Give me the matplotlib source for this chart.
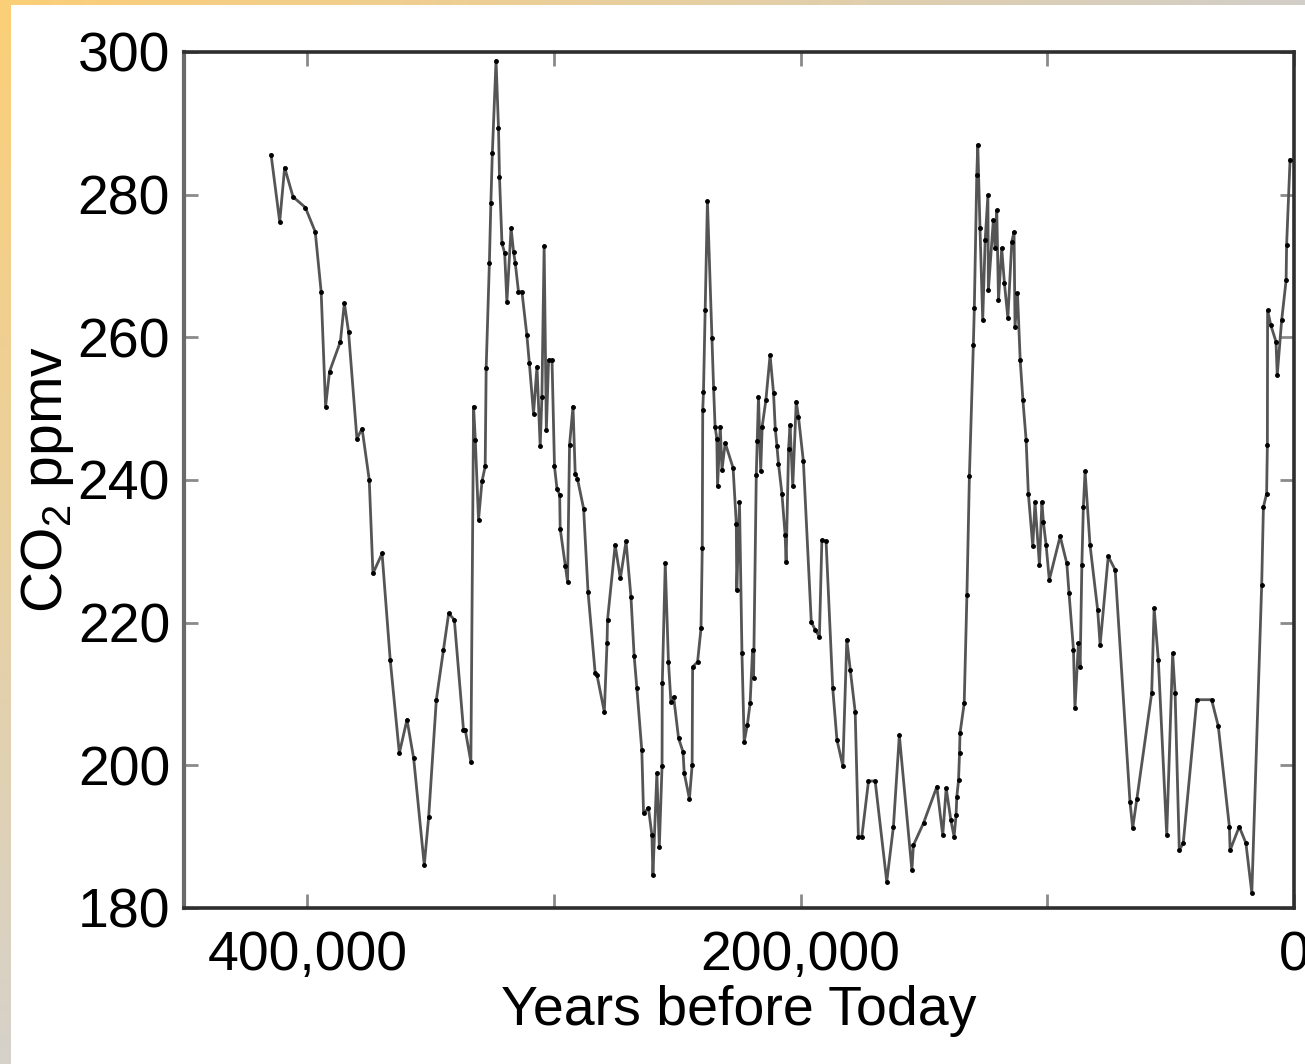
import numpy as np
import matplotlib
matplotlib.use("Agg")
import matplotlib.pyplot as plt
from matplotlib.colors import to_rgb

plt.rcParams['font.family'] = ['Liberation Sans', 'DejaVu Sans']
plt.rcParams['mathtext.fontset'] = 'custom'
plt.rcParams['mathtext.rm'] = 'Liberation Sans'

# ---- data (years before present, CO2 ppmv) ----
years = [414700, 411200, 409200, 405800, 400800, 396800, 394400, 392600, 391000, 386600,
         385000, 383300, 379900, 377800, 374900, 373400, 369700, 366400, 362700, 359600,
         356900, 352600, 350800, 347700, 344800, 342700, 340400, 336700, 336000, 333700,
         332600, 331900, 330600, 329200, 327900, 327500, 326200, 325600, 325000, 323500,
         322500, 322100, 321100, 320000, 319100, 317400, 316400, 315700, 314400, 313000,
         311000, 310000, 308300, 306900, 305600, 304900, 304000, 303100, 302200, 300800,
         299800, 298800, 297700, 297500, 295400, 294500, 293700, 292300, 291400, 290500,
         288000, 286200, 283300, 282600, 279600, 278500, 278300, 275200, 273100, 270800,
         268800, 267500, 266400, 264400, 263700, 261700, 260300, 259900, 258300, 257300,
         256200, 256100, 254900, 253600, 252600, 251500, 249500, 247700, 247200, 245100,
         244000, 243800, 241800, 240400, 239900, 239700, 239400, 238700, 237800, 236000,
         235300, 234700, 234000, 233700, 232600, 231900, 230600, 227400, 226100, 225900,
         224800, 223800, 222900, 221600, 220500, 219500, 219100, 218000, 217600, 217100,
         216200, 215600, 214100, 212400, 211000, 210300, 209600, 209000, 207600, 206300,
         205900, 204900, 204300, 203200, 201800, 200900, 198900, 195700, 194100, 192400,
         191400, 189700, 187000, 185300, 182900, 181300, 179900, 177900, 176600, 175200,
         172500, 169800, 165100, 162400, 160000, 154900, 154300, 150200, 144800, 142400,
         141000, 139100, 137800, 137000, 136700, 136000, 135600, 135400, 133700, 132600,
         131600, 130000, 129600, 128600, 128200, 127300, 126200, 125200, 124100, 123900,
         121900, 121200, 120500, 119800, 118500, 117400, 116000, 114400, 113500, 113100,
         112100, 111000, 109900, 108600, 107700, 105900, 105000, 103200, 102200, 101600,
         100500, 99200, 94800, 92100, 91200, 89400, 88800, 87400, 86700, 86000,
         85400, 84700, 82700, 79600, 78600, 75300, 72500, 66500, 65400, 63700,
         57700, 56700, 55000, 51600, 49200, 48200, 46500, 44900, 39400, 33400,
         30700, 26200, 25900, 22200, 19500, 17100, 13100, 12400, 11100, 10800,
         10700, 9400, 7300, 6800, 5000, 3200, 3000, 1600]
co2 = [285.6, 276.2, 283.8, 279.7, 278.2, 274.8, 266.4, 250.3, 255.2, 259.4,
       264.8, 260.8, 245.8, 247.2, 240.0, 226.9, 229.7, 214.8, 201.7, 206.4,
       201.0, 186.0, 192.8, 209.2, 216.2, 221.3, 220.4, 205.0, 205.0, 200.5,
       250.3, 245.6, 234.4, 239.8, 241.9, 255.7, 270.4, 278.8, 285.8, 298.8,
       289.3, 282.5, 273.2, 271.8, 265.0, 275.3, 272.0, 270.4, 266.4, 266.4,
       260.3, 256.4, 249.3, 255.9, 244.7, 251.7, 272.8, 247.0, 256.8, 256.8,
       241.9, 238.8, 237.9, 233.2, 227.9, 225.7, 244.9, 250.3, 240.9, 240.2,
       236.0, 224.3, 212.9, 212.7, 207.5, 217.1, 220.4, 230.9, 226.2, 231.4,
       223.6, 215.3, 210.8, 202.1, 193.3, 194.0, 190.2, 184.6, 198.9, 188.6,
       199.9, 211.5, 228.3, 214.5, 208.9, 209.6, 203.8, 201.9, 198.9, 195.3,
       200.0, 213.8, 214.5, 219.2, 230.4, 249.8, 252.4, 263.8, 279.1, 259.9,
       252.9, 247.5, 245.8, 239.1, 247.5, 241.4, 245.2, 241.7, 233.9, 224.6,
       236.9, 215.7, 203.3, 205.7, 208.7, 216.2, 212.2, 240.7, 245.4, 251.7,
       241.2, 247.5, 251.2, 257.5, 252.2, 247.2, 244.7, 242.3, 238.1, 232.3,
       228.5, 244.4, 247.7, 239.1, 251.0, 248.9, 242.6, 220.1, 219.0, 218.0,
       231.6, 231.4, 210.8, 203.6, 199.9, 217.6, 213.4, 207.5, 190.0, 190.0,
       197.8, 197.8, 183.7, 191.4, 204.2, 185.3, 188.8, 191.9, 197.0, 190.2,
       196.8, 192.3, 190.0, 193.0, 195.6, 197.9, 201.7, 204.5, 208.7, 223.9,
       240.5, 258.9, 264.1, 282.8, 287.0, 275.3, 262.4, 273.6, 279.9, 266.6,
       276.4, 272.5, 277.8, 265.2, 272.5, 267.6, 262.7, 273.4, 274.8, 261.5,
       266.2, 256.8, 251.2, 245.6, 238.1, 230.7, 236.9, 228.1, 236.9, 234.1,
       230.9, 226.0, 232.1, 228.3, 224.1, 216.2, 208.0, 217.1, 213.8, 228.1,
       236.2, 241.2, 230.9, 221.8, 216.9, 229.3, 227.4, 194.9, 191.2, 195.3,
       210.1, 222.0, 214.8, 190.2, 215.7, 210.1, 188.1, 189.1, 209.2, 209.2,
       205.5, 191.4, 188.1, 191.4, 189.1, 182.1, 225.3, 236.2, 238.1, 244.9,
       263.8, 261.7, 259.4, 254.7, 262.4, 268.0, 272.9, 284.9]

xticks = [400000, 300000, 200000, 100000, 0]
xticklabels = ['400,000', '', '200,000', '', '0']
yticks = [180, 200, 220, 240, 260, 280, 300]
yticklabels = ['180', '200', '220', '240', '260', '280', '300']

W, H = 1305, 1064
fig = plt.figure(figsize=(W / 100, H / 100), dpi=100)
fig.patch.set_facecolor('white')

# decorative gradient frame (top and left strips)
bg = fig.add_axes([0, 0, 1, 1], zorder=-10)
bg.set_xlim(0, W)
bg.set_ylim(H, 0)
bg.axis('off')
c0 = np.array(to_rgb('#FCCF77'))
c1 = np.array(to_rgb('#D2CEC8'))
c2 = np.array(to_rgb('#D6D2CA'))
t = np.linspace(0, 1, 256)
top = (c0[None, :] * (1 - t[:, None]) + c1[None, :] * t[:, None])[None, :, :]
left = (c0[None, :] * (1 - t[:, None]) + c2[None, :] * t[:, None])[:, None, :]
bg.imshow(top, extent=[0, W, 5, 0], aspect='auto', interpolation='bilinear')
bg.imshow(left, extent=[0, 11, H, 0], aspect='auto', interpolation='bilinear')

ax = fig.add_axes([184 / W, 1 - 908 / H, (1294 - 184) / W, (908 - 52) / H])
ax.plot(years, co2, color='#555555', lw=2.0, marker='.', ms=5,
        mfc='black', mec='black', zorder=3)

ax.set_xlim(450000, 0)
ax.set_ylim(180, 300)
ax.set_xticks(xticks)
ax.set_xticklabels(xticklabels)
ax.set_yticks(yticks)
ax.set_yticklabels(yticklabels)

ax.tick_params(axis='both', direction='in', length=10, width=2, color='#8a8a8a',
               labelsize=40, top=True, right=True)
ax.tick_params(axis='x', pad=16)
ax.tick_params(axis='y', pad=10)

for side in ['top', 'right', 'bottom']:
    ax.spines[side].set_color('#2e2e2e')
    ax.spines[side].set_linewidth(2.6)
ax.spines['left'].set_color('#6a6a6a')
ax.spines['left'].set_linewidth(3)

ax.set_xlabel('Years before Today', fontsize=40, labelpad=2)
ax.set_ylabel(r'CO$_{\mathregular{2}}$ ppmv', fontsize=41)
ax.yaxis.set_label_coords(-0.097, 0.5)

fig.savefig('out.png', dpi=100)
